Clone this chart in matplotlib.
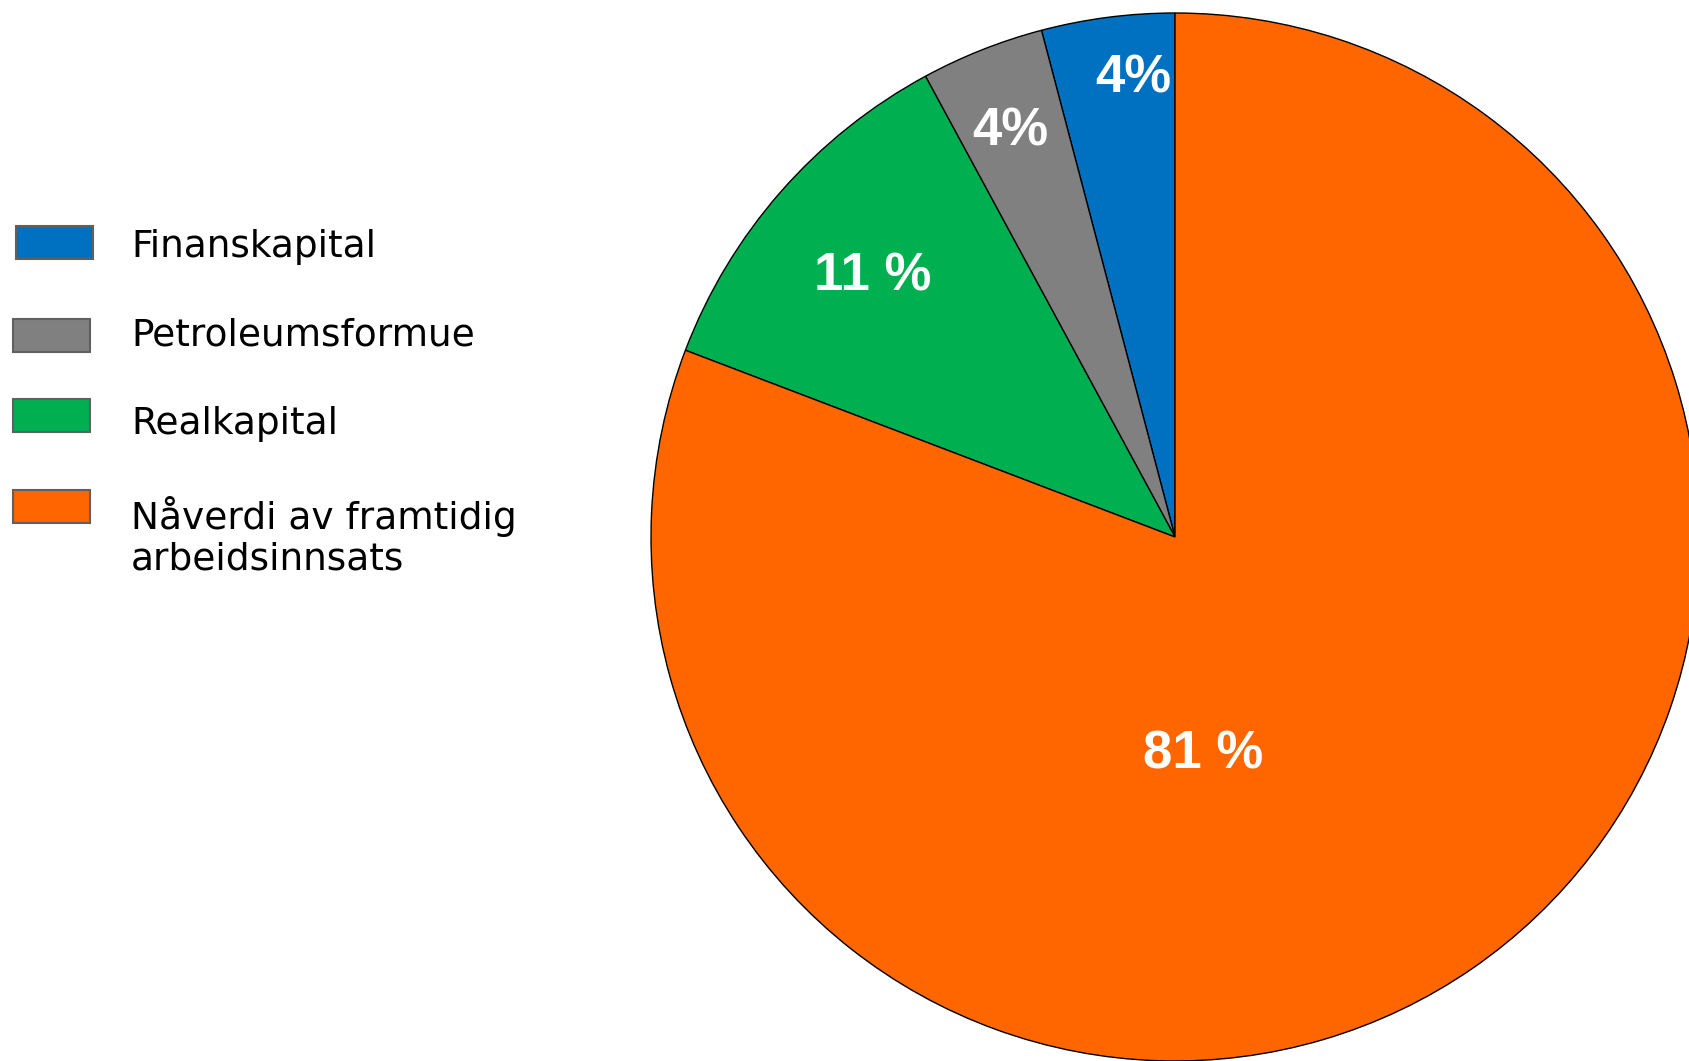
import numpy as np
import matplotlib
matplotlib.use("Agg")
import matplotlib.pyplot as plt
from matplotlib.patches import Rectangle

categories = ["Finanskapital", "Petroleumsformue", "Realkapital",
              "Nåverdi av framtidig\narbeidsinnsats"]
values = [4.1, 3.8, 11.3, 80.8]
value_labels = ["4%", "4%", "11 %", "81 %"]
colors = ["#0070C0", "#808080", "#00B050", "#FF6600"]

# label placement (style): radial fraction and angular offset from wedge mid
label_r = [0.887, 0.843, 0.767, 0.41]
label_dtheta = [-2.2, 0.3, 0.0, -27.0]

W, H = 1689, 1061
fig = plt.figure(figsize=(W / 100, H / 100), dpi=100)
fig.patch.set_facecolor("white")

cx, cy, R = 1175, 537, 524
ax = fig.add_axes([(cx - R) / W, (H - cy - R) / H, 2 * R / W, 2 * R / H])
wedges, _ = ax.pie(values, colors=colors, startangle=90, counterclock=True,
                   radius=1.0,
                   wedgeprops=dict(edgecolor="black", linewidth=1.0))
ax.set_xlim(-1, 1)
ax.set_ylim(-1, 1)
ax.set_aspect("auto")
ax.axis("off")

for w, lab, r, dt in zip(wedges, value_labels, label_r, label_dtheta):
    mid = np.deg2rad((w.theta1 + w.theta2) / 2 + dt)
    ax.text(r * np.cos(mid), r * np.sin(mid) - 0.008, lab, ha="center",
            va="center", color="white", fontsize=38, fontweight="bold",
            family="Liberation Sans")

# legend (manual)
patch_y = [226, 319, 399, 490]
patch_x = [16, 13, 13, 13]
text_base = [257, 346, 434, 569]   # baseline of last line
for i, (cat, col) in enumerate(zip(categories, colors)):
    x0 = patch_x[i]
    y0 = patch_y[i]
    fig.patches.append(Rectangle((x0 / W, 1 - (y0 + 33) / H), 77 / W, 33 / H,
                                 transform=fig.transFigure,
                                 facecolor=col, edgecolor="#606060",
                                 linewidth=1.5))
    fig.text(131 / W, 1 - text_base[i] / H, cat, ha="left", va="baseline",
             fontsize=27, family="DejaVu Sans", color="black",
             linespacing=1.15)

fig.savefig("out.png", dpi=100)
